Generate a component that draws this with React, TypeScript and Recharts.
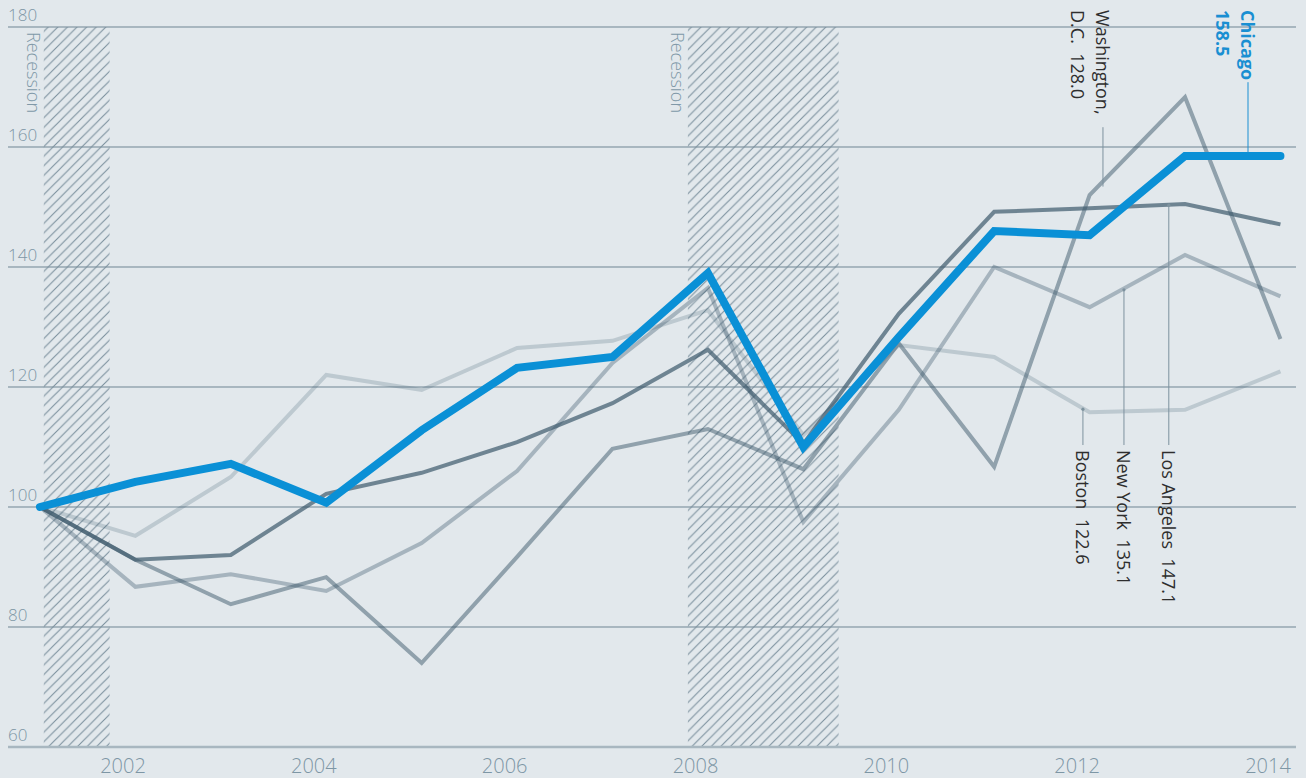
import React from 'react';
import {
  LineChart,
  Line,
  XAxis,
  YAxis,
  CartesianGrid,
  ReferenceArea,
  ReferenceLine,
  ReferenceDot,
} from 'recharts';

// ---- data ----
const years = [2001, 2002, 2003, 2004, 2005, 2006, 2007, 2008, 2009, 2010, 2011, 2012, 2013, 2014];
// annual observations are taken early in each year
const observationOffset = 0.13;

const chicago = [100, 104.2, 107.2, 100.7, 112.8, 123.2, 125, 139, 110, 128.3, 146, 145.3, 158.5, 158.5];
const losAngeles = [100, 91.2, 92, 102.2, 105.7, 110.8, 117.3, 126.2, 110.5, 132.2, 149.2, 149.8, 150.5, 147.1];
const washington = [100, 91.2, 83.8, 88.3, 74, 91.7, 109.7, 113, 106.3, 127.3, 106.7, 152, 168.3, 128];
const newYork = [100, 86.7, 88.8, 86, 94, 106, 124, 136.5, 97.5, 116.2, 140, 133.3, 142, 135.1];
const boston = [100, 95.2, 105, 122, 119.5, 126.5, 127.7, 132.8, 112, 127, 125, 115.8, 116.2, 122.6];

const xTicks = [2002, 2004, 2006, 2008, 2010, 2012, 2014];
const yTicks = [60, 80, 100, 120, 140, 160, 180];

const recessions = [
  { start: 2001.17, end: 2001.86 },
  { start: 2007.92, end: 2009.5 },
];

const xDomain: [number, number] = [2000.795, 2014.293];
const yDomain: [number, number] = [60, 180];

const rows = years.map((yr, i) => ({
  t: yr + observationOffset,
  chicago: chicago[i],
  losAngeles: losAngeles[i],
  washington: washington[i],
  newYork: newYork[i],
  boston: boston[i],
}));

// label annotations (x in years, y in index units)
const annotations = [
  { key: 'dc', lines: ['Washington,', 'D.C.  128.0'], x: 2012.27, textY: 182.83, from: 163.3, to: 153.4, color: '#2e2e2e', lead: '#7d929e', bold: false, dot: false },
  { key: 'chi', lines: ['Chicago', '158.5'], x: 2013.79, textY: 182.83, from: 170.8, to: 159.0, color: '#1a8fd2', lead: '#1a8fd2', bold: true, dot: false },
  { key: 'bos', lines: ['Boston  122.6'], x: 2012.06, textY: 109.5, from: 110.33, to: 116.3, color: '#2e2e2e', lead: '#7d929e', bold: false, dot: true },
  { key: 'ny', lines: ['New York  135.1'], x: 2012.49, textY: 109.5, from: 110.33, to: 136.2, color: '#2e2e2e', lead: '#7d929e', bold: false, dot: true },
  { key: 'la', lines: ['Los Angeles  147.1'], x: 2012.96, textY: 109.5, from: 110.33, to: 150.3, color: '#2e2e2e', lead: '#7d929e', bold: false, dot: true },
];

const FONT = '"Open Sans", "Noto Sans", sans-serif';
const BG = '#e2e8ec';
const AXIS_TEXT = '#7d96a5';
const BASE = '#3d5a6c';

const XTick = (props: any) => {
  const { x, y, payload } = props;
  return (
    <text x={x} y={y} dy={26} textAnchor="middle" fontSize={20} fontWeight={300} fill={AXIS_TEXT} fontFamily={FONT}>
      {payload.value}
    </text>
  );
};

const yLabel = (value: number) => (props: any) => {
  const { cx, cy } = props;
  if (cx == null || cy == null) return <g />;
  return (
    <text x={cx} y={cy} dy={-6} textAnchor="start" fontSize={17} fontWeight={300} fill={AXIS_TEXT} fontFamily={FONT}>
      {value}
    </text>
  );
};

const makeLabel = (a: any) => (props: any) => {
  const { cx, cy } = props;
  if (cx == null || cy == null) return <g />;
  return (
    <text
      transform={`rotate(90 ${cx} ${cy})`}
      x={cx}
      y={cy}
      fontSize={18}
      fontWeight={a.bold ? 700 : 400}
      fill={a.color}
      fontFamily={FONT}
      dominantBaseline="central"
      textAnchor="start"
    >
      {a.lines.map((ln: string, i: number) => (
        <tspan key={i} x={cx} dy={i === 0 ? 0 : 25} style={{ whiteSpace: 'pre' }}>
          {ln}
        </tspan>
      ))}
    </text>
  );
};

const leaderDot = (color: string) => (props: any) => {
  const { cx, cy } = props;
  if (cx == null || cy == null) return <g />;
  return <circle cx={cx} cy={cy} r={1.6} fill={color} />;
};

const recessionLabel = (props: any) => {
  const { cx, cy } = props;
  if (cx == null || cy == null) return <g />;
  const x = cx - 10;
  const y = cy + 5;
  return (
    <text
      transform={`rotate(90 ${x} ${y})`}
      x={x}
      y={y}
      fontSize={18}
      fontWeight={300}
      fill="#8099a8"
      fontFamily={FONT}
      dominantBaseline="central"
      textAnchor="start"
    >
      Recession
    </text>
  );
};

export default function App() {
  return (
    <div style={{ position: 'relative', marginTop: -8 }}>
      <style>{`body{background:${BG};}`}</style>
      <svg width={0} height={0} style={{ position: 'absolute' }}>
        <defs>
          <pattern id="hatch" patternUnits="userSpaceOnUse" width={9.6} height={9.6}>
            <path d="M0,9.6 L9.6,0 M-2.4,2.4 L2.4,-2.4 M7.2,12 L12,7.2" stroke="#7b909d" strokeWidth={1.1} />
          </pattern>
        </defs>
      </svg>
      <LineChart
        width={1298}
        height={778}
        data={rows}
        margin={{ top: 27, right: 10, bottom: 0, left: 0 }}
        style={{ fontFamily: FONT }}
      >
        <CartesianGrid vertical={false} stroke="#6e8593" strokeWidth={1} horizontalValues={yTicks} />
        {recessions.map((r, i) => (
          <ReferenceArea key={`r${i}`} x1={r.start} x2={r.end} y1={yDomain[0]} y2={yDomain[1]} fill="url(#hatch)" fillOpacity={1} stroke="none" ifOverflow="visible" />
        ))}
        <XAxis
          type="number"
          dataKey="t"
          domain={xDomain}
          ticks={xTicks}
          allowDataOverflow
          tickLine={false}
          tickSize={0}
          tickMargin={0}
          height={31}
          axisLine={{ stroke: '#a8b7c0', strokeWidth: 2.5 }}
          tick={<XTick />}
          interval={0}
        />
        <YAxis type="number" domain={yDomain} ticks={yTicks} allowDataOverflow hide width={0} />
        <Line dataKey="boston" stroke={BASE} strokeOpacity={0.22} strokeWidth={4} dot={false} activeDot={false} isAnimationActive={false} strokeLinejoin="miter" />
        <Line dataKey="newYork" stroke={BASE} strokeOpacity={0.36} strokeWidth={4} dot={false} activeDot={false} isAnimationActive={false} strokeLinejoin="miter" />
        <Line dataKey="washington" stroke={BASE} strokeOpacity={0.5} strokeWidth={4} dot={false} activeDot={false} isAnimationActive={false} strokeLinejoin="miter" />
        <Line dataKey="losAngeles" stroke={BASE} strokeOpacity={0.7} strokeWidth={4} dot={false} activeDot={false} isAnimationActive={false} strokeLinejoin="miter" />
        <Line dataKey="chicago" stroke="#0a90d6" strokeWidth={8} dot={false} activeDot={false} isAnimationActive={false} strokeLinecap="round" strokeLinejoin="miter" />
        {yTicks.map((v) => (
          <ReferenceDot key={`y${v}`} x={xDomain[0]} y={v} r={0} ifOverflow="visible" shape={yLabel(v)} />
        ))}
        {recessions.map((r, i) => (
          <ReferenceDot key={`rl${i}`} x={r.start} y={yDomain[1]} r={0} ifOverflow="visible" shape={recessionLabel} />
        ))}
        {annotations.map((a) => (
          <ReferenceLine
            key={`l${a.key}`}
            segment={[{ x: a.x, y: a.from }, { x: a.x, y: a.to }]}
            stroke={a.lead}
            strokeWidth={1}
            ifOverflow="visible"
          />
        ))}
        {annotations.filter((a) => a.dot).map((a) => (
          <ReferenceDot key={`d${a.key}`} x={a.x} y={a.to} r={1.6} ifOverflow="visible" shape={leaderDot(a.lead)} />
        ))}
        {annotations.map((a) => (
          <ReferenceDot key={`t${a.key}`} x={a.x} y={a.textY} r={0} ifOverflow="visible" shape={makeLabel(a)} />
        ))}
      </LineChart>
    </div>
  );
}
